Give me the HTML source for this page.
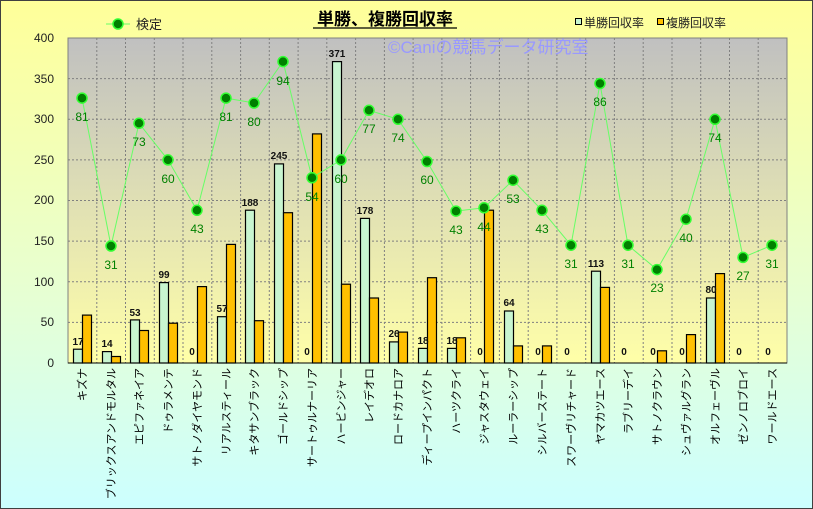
<!DOCTYPE html><html><head><meta charset="utf-8"><style>body{margin:0}svg{display:block;font-family:"Liberation Sans","Noto Sans CJK JP",sans-serif}</style></head><body>
<svg width="813" height="509" viewBox="0 0 813 509">
<defs>
<linearGradient id="bg" x1="0" y1="0" x2="0" y2="1"><stop offset="0" stop-color="#ffff99"/><stop offset="0.55" stop-color="#e8ffd0"/><stop offset="1" stop-color="#ccffff"/></linearGradient>
<linearGradient id="pa" x1="0" y1="0" x2="0" y2="1"><stop offset="0" stop-color="#c0c0c0"/><stop offset="1" stop-color="#ffffa8"/></linearGradient>
</defs>
<rect x="0.5" y="0.5" width="812" height="508" fill="url(#bg)" stroke="#404040"/>
<rect x="68" y="38" width="719" height="325" fill="url(#pa)"/>
<g stroke="#808080" stroke-dasharray="2,2" stroke-width="1">
<line x1="68" x2="787" y1="322.4" y2="322.4"/><line x1="68" x2="787" y1="281.8" y2="281.8"/><line x1="68" x2="787" y1="241.1" y2="241.1"/><line x1="68" x2="787" y1="200.5" y2="200.5"/><line x1="68" x2="787" y1="159.9" y2="159.9"/><line x1="68" x2="787" y1="119.3" y2="119.3"/><line x1="68" x2="787" y1="78.6" y2="78.6"/>
<line y1="38" y2="363" x1="96.8" x2="96.8"/><line y1="38" y2="363" x1="125.5" x2="125.5"/><line y1="38" y2="363" x1="154.3" x2="154.3"/><line y1="38" y2="363" x1="183" x2="183"/><line y1="38" y2="363" x1="211.8" x2="211.8"/><line y1="38" y2="363" x1="240.6" x2="240.6"/><line y1="38" y2="363" x1="269.3" x2="269.3"/><line y1="38" y2="363" x1="298.1" x2="298.1"/><line y1="38" y2="363" x1="326.8" x2="326.8"/><line y1="38" y2="363" x1="355.6" x2="355.6"/><line y1="38" y2="363" x1="384.4" x2="384.4"/><line y1="38" y2="363" x1="413.1" x2="413.1"/><line y1="38" y2="363" x1="441.9" x2="441.9"/><line y1="38" y2="363" x1="470.6" x2="470.6"/><line y1="38" y2="363" x1="499.4" x2="499.4"/><line y1="38" y2="363" x1="528.2" x2="528.2"/><line y1="38" y2="363" x1="556.9" x2="556.9"/><line y1="38" y2="363" x1="585.7" x2="585.7"/><line y1="38" y2="363" x1="614.4" x2="614.4"/><line y1="38" y2="363" x1="643.2" x2="643.2"/><line y1="38" y2="363" x1="672" x2="672"/><line y1="38" y2="363" x1="700.7" x2="700.7"/><line y1="38" y2="363" x1="729.5" x2="729.5"/><line y1="38" y2="363" x1="758.2" x2="758.2"/>
</g>
<rect x="68" y="38" width="719" height="325" fill="none" stroke="#808080"/>
<text x="400" y="53" font-size="17" fill="#9999ff" text-anchor="start" dx="-12">©Caniの競馬データ研究室</text>
<g font-size="12" fill="#222" text-anchor="end">
<text x="54" y="367">0</text><text x="54" y="326">50</text><text x="54" y="286">100</text><text x="54" y="245">150</text><text x="54" y="204">200</text><text x="54" y="164">250</text><text x="54" y="123">300</text><text x="54" y="83">350</text><text x="54" y="42">400</text>
</g>
<g stroke="#000" stroke-width="1.2">
<g fill="#c8f5d0">
<rect x="73.5" y="349.2" width="9" height="13.8"/><rect x="102.5" y="351.6" width="9" height="11.4"/><rect x="130.5" y="319.9" width="9" height="43.1"/><rect x="159.5" y="282.6" width="9" height="80.4"/><rect x="217.5" y="316.7" width="9" height="46.3"/><rect x="245.5" y="210.2" width="9" height="152.8"/><rect x="274.5" y="163.9" width="9" height="199.1"/><rect x="332.5" y="61.6" width="9" height="301.4"/><rect x="360.5" y="218.4" width="9" height="144.6"/><rect x="389.5" y="341.9" width="9" height="21.1"/><rect x="418.5" y="348.4" width="9" height="14.6"/><rect x="447.5" y="348.4" width="9" height="14.6"/><rect x="504.5" y="311" width="9" height="52"/><rect x="591.5" y="271.2" width="9" height="91.8"/><rect x="706.5" y="298" width="9" height="65"/>
</g>
<g fill="#ffc000">
<rect x="82.5" y="315.1" width="9" height="47.9"/><rect x="111.5" y="356.5" width="9" height="6.5"/><rect x="139.5" y="330.5" width="9" height="32.5"/><rect x="168.5" y="323.2" width="9" height="39.8"/><rect x="197.5" y="286.6" width="9" height="76.4"/><rect x="226.5" y="244.4" width="9" height="118.6"/><rect x="254.5" y="320.7" width="9" height="42.3"/><rect x="283.5" y="212.7" width="9" height="150.3"/><rect x="312.5" y="133.9" width="9" height="229.1"/><rect x="341.5" y="284.2" width="9" height="78.8"/><rect x="369.5" y="298" width="9" height="65"/><rect x="398.5" y="332.1" width="9" height="30.9"/><rect x="427.5" y="277.7" width="9" height="85.3"/><rect x="456.5" y="337.8" width="9" height="25.2"/><rect x="484.5" y="210.2" width="9" height="152.8"/><rect x="513.5" y="345.9" width="9" height="17.1"/><rect x="542.5" y="345.9" width="9" height="17.1"/><rect x="600.5" y="287.4" width="9" height="75.6"/><rect x="657.5" y="350.8" width="9" height="12.2"/><rect x="686.5" y="334.6" width="9" height="28.4"/><rect x="715.5" y="273.6" width="9" height="89.4"/>
</g>
</g>
<line x1="68" y1="363" x2="787" y2="363" stroke="#000"/>
<g font-size="10" font-weight="bold" fill="#111" text-anchor="middle">
<text x="78" y="345">17</text><text x="107" y="347">14</text><text x="135" y="316">53</text><text x="164" y="278">99</text><text x="192" y="355">0</text><text x="222" y="312">57</text><text x="250" y="206">188</text><text x="279" y="159">245</text><text x="307" y="355">0</text><text x="337" y="57">371</text><text x="365" y="214">178</text><text x="394" y="337">26</text><text x="423" y="344">18</text><text x="452" y="344">18</text><text x="480" y="355">0</text><text x="509" y="306">64</text><text x="538" y="355">0</text><text x="567" y="355">0</text><text x="596" y="267">113</text><text x="624" y="355">0</text><text x="653" y="355">0</text><text x="682" y="355">0</text><text x="711" y="293">80</text><text x="739" y="355">0</text><text x="768" y="355">0</text>
</g>
<polyline fill="none" stroke="#66ff66" stroke-width="1" points="82,98.1 111,246 139,123.3 168,159.9 197,210.3 226,98.1 254,103 283,61.6 312,177.8 341,159.9 369,110.3 398,119.3 427,161.5 456,211.1 484,207.8 513,180.2 542,210.3 571,245.2 600,83.5 628,245.2 657,269.6 686,219.2 715,119.3 743,257.4 772,245.2"/>
<g fill="#008000" stroke="#33ff33" stroke-width="1.5">
<circle cx="82" cy="98.1" r="5"/><circle cx="111" cy="246" r="5"/><circle cx="139" cy="123.3" r="5"/><circle cx="168" cy="159.9" r="5"/><circle cx="197" cy="210.3" r="5"/><circle cx="226" cy="98.1" r="5"/><circle cx="254" cy="103" r="5"/><circle cx="283" cy="61.6" r="5"/><circle cx="312" cy="177.8" r="5"/><circle cx="341" cy="159.9" r="5"/><circle cx="369" cy="110.3" r="5"/><circle cx="398" cy="119.3" r="5"/><circle cx="427" cy="161.5" r="5"/><circle cx="456" cy="211.1" r="5"/><circle cx="484" cy="207.8" r="5"/><circle cx="513" cy="180.2" r="5"/><circle cx="542" cy="210.3" r="5"/><circle cx="571" cy="245.2" r="5"/><circle cx="600" cy="83.5" r="5"/><circle cx="628" cy="245.2" r="5"/><circle cx="657" cy="269.6" r="5"/><circle cx="686" cy="219.2" r="5"/><circle cx="715" cy="119.3" r="5"/><circle cx="743" cy="257.4" r="5"/><circle cx="772" cy="245.2" r="5"/>
</g>
<g font-size="12" fill="#008000" text-anchor="middle">
<text x="82" y="121">81</text><text x="111" y="269">31</text><text x="139" y="146">73</text><text x="168" y="183">60</text><text x="197" y="233">43</text><text x="226" y="121">81</text><text x="254" y="126">80</text><text x="283" y="85">94</text><text x="312" y="201">54</text><text x="341" y="183">60</text><text x="369" y="133">77</text><text x="398" y="142">74</text><text x="427" y="184">60</text><text x="456" y="234">43</text><text x="484" y="231">44</text><text x="513" y="203">53</text><text x="542" y="233">43</text><text x="571" y="268">31</text><text x="600" y="106">86</text><text x="628" y="268">31</text><text x="657" y="292">23</text><text x="686" y="242">40</text><text x="715" y="142">74</text><text x="743" y="280">27</text><text x="772" y="268">31</text>
</g>
<g font-size="11" fill="#000" text-anchor="end">
<text transform="translate(86,368) rotate(-90)">キズナ</text>
<text transform="translate(115,368) rotate(-90)">ブリックスアンドモルタル</text>
<text transform="translate(143,368) rotate(-90)">エピファネイア</text>
<text transform="translate(172,368) rotate(-90)">ドゥラメンテ</text>
<text transform="translate(201,368) rotate(-90)">サトノダイヤモンド</text>
<text transform="translate(230,368) rotate(-90)">リアルスティール</text>
<text transform="translate(258,368) rotate(-90)">キタサンブラック</text>
<text transform="translate(287,368) rotate(-90)">ゴールドシップ</text>
<text transform="translate(316,368) rotate(-90)">サートゥルナーリア</text>
<text transform="translate(345,368) rotate(-90)">ハービンジャー</text>
<text transform="translate(373,368) rotate(-90)">レイデオロ</text>
<text transform="translate(402,368) rotate(-90)">ロードカナロア</text>
<text transform="translate(431,368) rotate(-90)">ディープインパクト</text>
<text transform="translate(460,368) rotate(-90)">ハーツクライ</text>
<text transform="translate(488,368) rotate(-90)">ジャスタウェイ</text>
<text transform="translate(517,368) rotate(-90)">ルーラーシップ</text>
<text transform="translate(546,368) rotate(-90)">シルバーステート</text>
<text transform="translate(575,368) rotate(-90)">スワーヴリチャード</text>
<text transform="translate(604,368) rotate(-90)">ヤマカツエース</text>
<text transform="translate(632,368) rotate(-90)">ラブリーデイ</text>
<text transform="translate(661,368) rotate(-90)">サトノクラウン</text>
<text transform="translate(690,368) rotate(-90)">シュヴァルグラン</text>
<text transform="translate(719,368) rotate(-90)">オルフェーヴル</text>
<text transform="translate(747,368) rotate(-90)">ゼンノロブロイ</text>
<text transform="translate(776,368) rotate(-90)">ワールドエース</text>
</g>
<text x="385" y="25" font-size="17" font-weight="bold" text-anchor="middle" fill="#000">単勝、複勝回収率</text>
<line x1="313" y1="28" x2="457" y2="28" stroke="#000" stroke-width="1.2"/>
<line x1="106" y1="24" x2="130" y2="24" stroke="#66ff66"/>
<circle cx="118" cy="24" r="5" fill="#008000" stroke="#33ff33" stroke-width="1.5"/>
<text x="136" y="29" font-size="13" fill="#222">検定</text>
<rect x="575.5" y="18.5" width="6" height="6" fill="#c8f5d0" stroke="#000"/>
<text x="584" y="27" font-size="12" fill="#222">単勝回収率</text>
<rect x="657.5" y="18.5" width="6" height="6" fill="#ffc000" stroke="#000"/>
<text x="666" y="27" font-size="12" fill="#222">複勝回収率</text>
</svg>
</body></html>
